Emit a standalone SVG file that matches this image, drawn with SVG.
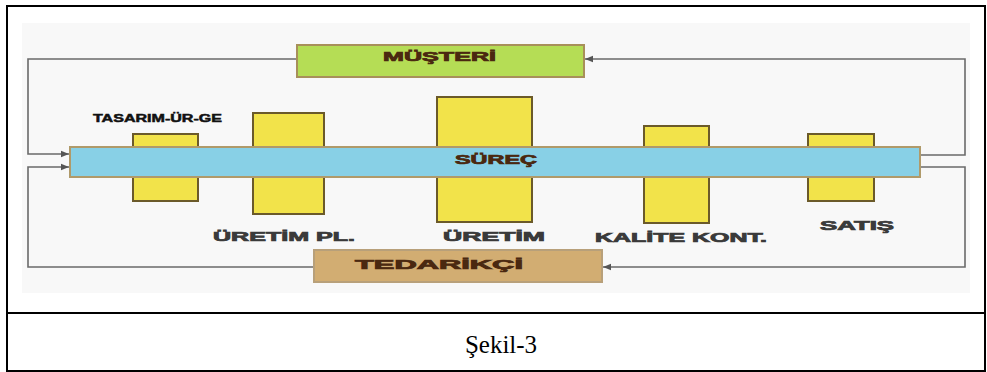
<svg xmlns="http://www.w3.org/2000/svg" width="987" height="372" viewBox="0 0 987 372">
<style>
.lbl{font-family:"Liberation Sans",Arial,sans-serif;font-weight:bold;font-size:12px;fill:#3a3a3a;stroke:#3a3a3a;stroke-width:0.7}
.hd{font-family:"Liberation Sans",Arial,sans-serif;font-weight:bold;font-size:12px;fill:#4a2810;stroke:#4a2810;stroke-width:0.7}
.box{fill:#f2e34a;stroke:#6b5a2a;stroke-width:2}
.conn{fill:none;stroke:#6a6a6a;stroke-width:1.6}
</style>
<defs>
<marker id="ah" viewBox="0 0 10 10" refX="10" refY="5" markerWidth="5" markerHeight="5" orient="auto">
<path d="M0,1 L10,5 L0,9 z" fill="#555"/>
</marker>
</defs>
<rect x="0" y="0" width="987" height="372" fill="#fff"/>
<rect x="22" y="23" width="948" height="270" fill="#f8f8f8"/>
<g id="connectors">
<path class="conn" d="M297,59 H28 V154 H69" marker-end="url(#ah)"/>
<path class="conn" d="M313,267 H28 V167 H69" marker-end="url(#ah)"/>
<path class="conn" d="M920,155 H965 V59 H585" marker-end="url(#ah)"/>
<path class="conn" d="M920,167 H965 V267 H603" marker-end="url(#ah)"/>
</g>
<g id="musteri">
<rect x="297" y="45" width="287" height="32" fill="#b5dd55" stroke="#a8905a" stroke-width="2"/>
<text class="hd" x="383" y="61" textLength="113" lengthAdjust="spacingAndGlyphs">MÜŞTERİ</text>
</g>
<g id="tasarim">
<rect class="box" x="133" y="134" width="65" height="67"/>
<text class="lbl" x="93" y="122" textLength="129" lengthAdjust="spacingAndGlyphs" style="fill:#111;stroke:#111;font-size:11px;stroke-width:0.5">TASARIM-ÜR-GE</text>
</g>
<g id="uretim-pl">
<rect class="box" x="253" y="113" width="71" height="101"/>
<text class="lbl" x="213" y="241" textLength="142" lengthAdjust="spacingAndGlyphs">ÜRETİM PL.</text>
</g>
<g id="uretim">
<rect class="box" x="437" y="97" width="95" height="125"/>
<text class="lbl" x="443" y="241" textLength="102" lengthAdjust="spacingAndGlyphs">ÜRETİM</text>
</g>
<g id="kalite">
<rect class="box" x="644" y="126" width="65" height="97"/>
<text class="lbl" x="595" y="242" textLength="172" lengthAdjust="spacingAndGlyphs">KALİTE KONT.</text>
</g>
<g id="satis">
<rect class="box" x="808" y="134" width="66" height="67"/>
<text class="lbl" x="820" y="230" textLength="74" lengthAdjust="spacingAndGlyphs">SATIŞ</text>
</g>
<g id="surec">
<rect x="70" y="147" width="850" height="30" fill="#88d0e6" stroke="#b09a6a" stroke-width="2"/>
<text class="hd" x="455" y="164" textLength="82" lengthAdjust="spacingAndGlyphs">SÜREÇ</text>
</g>
<g id="tedarikci">
<rect x="314" y="250" width="288" height="32" fill="#d2ad72" stroke="#b8a07a" stroke-width="2"/>
<text class="hd" x="355" y="269" textLength="168" lengthAdjust="spacingAndGlyphs">TEDARİKÇİ</text>
</g>
<g id="frame">
<rect x="7" y="6" width="978" height="365" fill="none" stroke="#000" stroke-width="2"/>
<line x1="7" y1="313" x2="985" y2="313" stroke="#000" stroke-width="2"/>
</g>
<text x="501" y="353" text-anchor="middle" font-family="'Liberation Serif','Times New Roman',serif" font-size="25" fill="#000">Şekil-3</text>
</svg>
